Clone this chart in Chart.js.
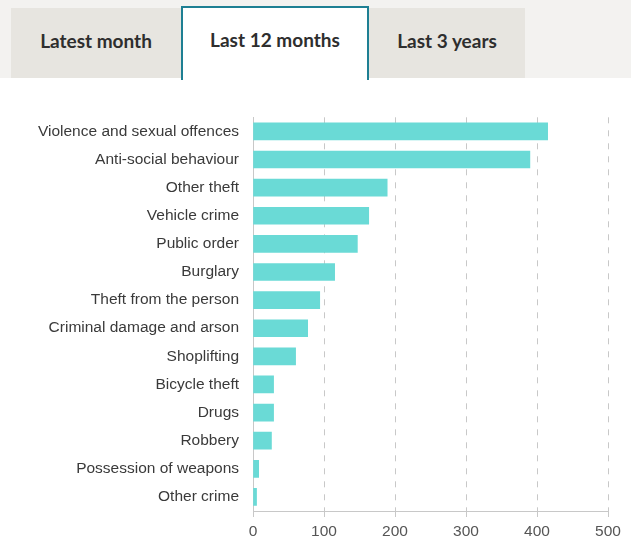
<!DOCTYPE html>
<html>
<head>
<meta charset="utf-8">
<script src="https://cdn.jsdelivr.net/npm/chart.js@4"></script>
<style>
  body { margin: 0; width: 631px; height: 546px; background: #fff; overflow: hidden; position: relative; }
  .tabbar { position: absolute; left: 0; top: 0; width: 631px; height: 78px; background: #f3f2f0; }
  .tab { position: absolute; top: 8px; height: 70px; background: #e7e5e0; font: bold 19px Lato, sans-serif;
         color: #2e2e2e; display: flex; align-items: center; justify-content: center; box-sizing: border-box; padding-bottom: 6px; }
  .tab.active { top: 6px; height: 74px; background: #fff; border: 2px solid #1e7f93; border-bottom: none; padding-bottom: 10px; }
  #wrap { position: absolute; left: 0; top: 94px; width: 631px; height: 452px; }
</style>
</head>
<body>
<div class="tabbar">
  <div class="tab" style="left:11px;width:170px">Latest month</div>
  <div class="tab active" style="left:181px;width:188px">Last 12 months</div>
  <div class="tab" style="left:369px;width:156px">Last 3 years</div>
</div>
<div id="wrap"><canvas id="crimeChart"></canvas></div>
<script>
const categories = [
  "Violence and sexual offences", "Anti-social behaviour", "Other theft", "Vehicle crime",
  "Public order", "Burglary", "Theft from the person", "Criminal damage and arson",
  "Shoplifting", "Bicycle theft", "Drugs", "Robbery", "Possession of weapons", "Other crime"
];
const counts = [415, 390, 189, 163, 147, 115, 94, 77, 60, 29, 29, 26, 8, 5];
const xTicks = [0, 100, 200, 300, 400, 500];

const ctx = document.getElementById("crimeChart").getContext("2d");

new Chart(ctx, {
  type: "bar",
  data: {
    labels: categories,
    datasets: [{
      data: counts,
      backgroundColor: "#6adad6",
      borderWidth: 0,
      barThickness: 17
    }]
  },
  options: {
    indexAxis: "y",
    responsive: true,
    maintainAspectRatio: false,
    animation: false,
    layout: { padding: { top: 4, right: 23, bottom: 0, left: 0 } },
    plugins: { legend: { display: false }, tooltip: { enabled: false } },
    scales: {
      x: {
        min: 0,
        max: 500,
        afterBuildTicks: scale => { scale.ticks = xTicks.map(v => ({ value: v })); },
        afterFit: scale => { scale.height = 35; },
        grid: { color: "#c8c8c8", tickLength: 6, tickColor: "#c8c8c8" },
        border: { display: true, color: "#c8c8c8", width: 1, dash: [6, 7] },
        ticks: { color: "#555", font: { family: "Liberation Sans", size: 15.5 }, padding: 5 }
      },
      y: {
        afterFit: scale => { scale.width = 253; },
        grid: { display: false, drawTicks: false },
        border: { display: true, color: "#c8c8c8", width: 1 },
        ticks: { color: "#3a3a3a", font: { family: "Liberation Sans", size: 15.5 }, padding: 14 }
      }
    }
  }
});
</script>
</body>
</html>
